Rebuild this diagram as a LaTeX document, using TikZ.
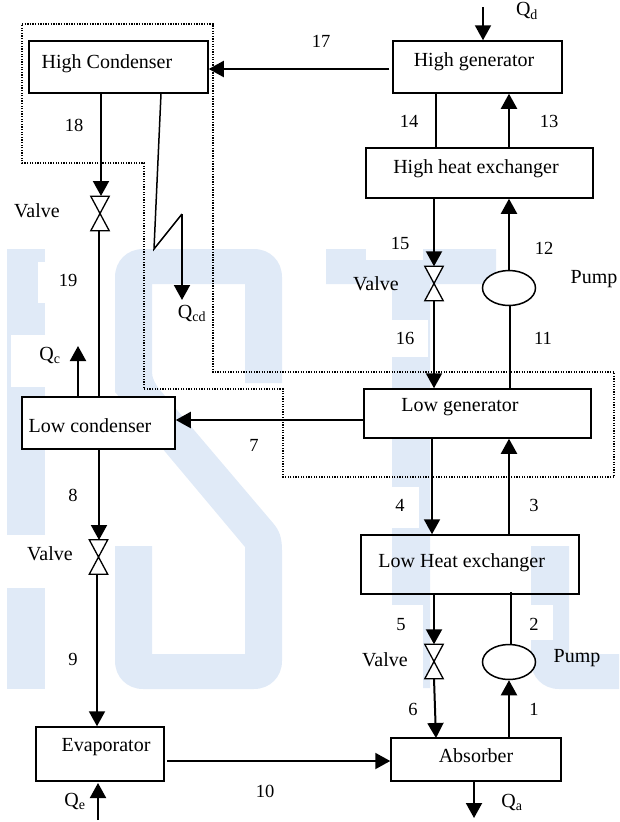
\documentclass[tikz,border=0pt]{standalone}
\usepackage{fontspec}
\setmainfont{Liberation Serif}
\usetikzlibrary{arrows.meta,shapes.geometric}
\definecolor{wmblue}{HTML}{E0EAF7}
\newcommand{\boxtext}[3]{\smash{\raisebox{#2pt}{\makebox[0pt]{\hspace*{#1pt}#3}}}}
\tikzset{
  unitbox/.style={draw=black,line width=1.5pt,inner sep=0pt,minimum width=#1},
  whitebox/.style={unitbox=#1,fill=white},
  valveframe/.style={inner sep=0pt,minimum width=18pt,minimum height=34pt},
  valveshape/.style={draw=black,fill=white,line width=1.3pt,line join=miter},
  pumpshape/.style={draw=black,fill=white,line width=1.5pt,ellipse,inner sep=0pt,minimum width=53pt,minimum height=35pt},
  flow/.style={line width=2pt,-{Triangle[length=15pt,width=16pt]}},
  plain/.style={line width=1.5pt},
  lbl/.style={inner sep=0pt,font=\fontsize{18.5}{20}\selectfont},
  dottedline/.style={line width=1.2pt,dash pattern=on 1.3pt off 1.3pt},
  wm/.style={fill=wmblue,draw=none}
}
\begin{document}
\begin{tikzpicture}[x=1pt,y=-1pt,font=\fontsize{20}{22}\selectfont]
\useasboundingbox (0,0) rectangle (619,822);
% watermark
\fill[wm] (7,249) rectangle (45,535);
\fill[wm] (7,588) rectangle (45,689);
\fill[wm] (115,392) -- (115,277) .. controls (115,261) and (127,249) .. (143,249)
  -- (254,249) .. controls (270,249) and (282,261) .. (282,277)
  -- (282,383) -- (245,383) -- (245,284) -- (152,284) -- (152,372)
  .. controls (152,378) and (155,384) .. (160,390)
  -- (273,523) .. controls (279,530) and (282,537) .. (282,550)
  -- (282,661) .. controls (282,677) and (270,689) .. (254,689)
  -- (143,689) .. controls (127,689) and (115,677) .. (115,661)
  -- (115,546) -- (152,546) -- (152,654) -- (245,654) -- (245,547) -- cycle;
\fill[wm] (326,249) -- (496,249) -- (496,284) -- (430,284) -- (430,688) -- (392,688) -- (392,284) -- (326,284) -- cycle;
\fill[wm] (531,546) -- (569,546) -- (569,654) -- (619,654) -- (619,689) -- (559,689)
  .. controls (543,689) and (531,677) .. (531,661) -- cycle;
\fill[white] (38,262) rectangle (46,303);
\fill[white] (11,335) rectangle (46,387);
\fill[white] (366,248) rectangle (423,260);
\fill[white] (391,320) rectangle (428,357);
\fill[white] (391,487) rectangle (419,528);
\fill[white] (391,605) rectangle (423,689);
\fill[white] (531,605) rectangle (553,640);
% dotted boundary
\draw[dottedline] (22,24) -- (213,24) -- (213,372) -- (614,372) -- (614,477) -- (283,477) -- (283,389) -- (144,389) -- (144,163) -- (22,163) -- cycle;
% boxes
\node[unitbox=179pt,minimum height=52pt] (hc) at (118.5,67) {\boxtext{-23}{-1.3}{High Condenser}};
\node[unitbox=169pt,minimum height=52pt] (hg) at (477.5,67) {\boxtext{-7}{0.3}{High generator}};
\node[unitbox=227pt,minimum height=50pt] (hhe) at (479.5,173) {\boxtext{-7}{0}{High heat exchanger}};
\node[whitebox=227pt,minimum height=49pt] (lg) at (477.5,413.5) {\boxtext{-35}{1.8}{Low generator}};
\node[whitebox=153pt,minimum height=52pt] (lc) at (98.5,423) {\boxtext{-17}{-9.7}{Low condenser}};
\node[unitbox=218pt,minimum height=59pt] (lhe) at (470,564.5) {\boxtext{-16.6}{-3.2}{Low Heat exchanger}};
\node[unitbox=170pt,minimum height=43pt] (ab) at (476,759.5) {\boxtext{0}{-3.2}{Absorber}};
\node[unitbox=128pt,minimum height=54pt] (ev) at (100,754) {\boxtext{12}{3}{Evaporator}};
% pumps
\node[pumpshape] (p1) at (509,288) {};
\node[pumpshape] (p2) at (509,662) {};
% valves
\node[valveframe] (v1) at (100,213.5) {};
\node[valveframe] (v2) at (434,283.5) {};
\node[valveframe] (v3) at (434,661.5) {};
\node[valveframe] (v4) at (98.5,557) {};
\foreach \v in {v1,v2,v3,v4}
  \draw[valveshape] (\v.north west) -- (\v.north east) -- (\v.south west) -- (\v.south east) -- cycle;
% free ends
\coordinate (qdtop) at (483,7);
\coordinate (qabot) at (474,818);
\coordinate (qebot) at (98,820);
\coordinate (qctop) at (78,346);
\coordinate (zz1) at (154,249);
\coordinate (zz2) at (182,214);
\coordinate (qcdend) at (182,300);
% connectors
\draw[flow] ([xshift=-3pt,yshift=-2pt]hg.west) -- ([yshift=-2pt]hc.east);
\draw[flow] (hc.south -| 101,0) -- (101,196);
\draw[plain] (v1.south -| 99,0) -- (lc.north -| 99,0);
\draw[plain] (hc.south -| 161,0) -- (zz1) -- (zz2);
\draw[flow] (zz2) -- (qcdend);
\draw[flow] (lc.north -| qctop) -- (qctop);
\draw[flow] (lg.west |- 0,420) -- (lc.east |- 0,420);
\draw[flow] (lc.south -| 99,0) -- (99,540);
\draw[flow] (v4.south -| 97,0) -- (ev.north -| 97,0);
\draw[flow] (qebot) -- (98,783);
\draw[flow] (167,761) -- (ab.west |- 0,761);
\draw[flow] (qdtop) -- (hg.north -| qdtop);
\draw[plain] (hhe.north -| 436,0) -- (hg.south -| 436,0);
\draw[flow] (hhe.north -| p1) -- (hg.south -| p1);
\draw[flow] (hhe.south -| v2) -- (v2.north);
\draw[flow] (p1.north) -- (hhe.south -| p1);
\draw[plain] (510,306) -- (lg.north -| 510,0);
\draw[flow] (v2.south) -- (lg.north -| v2);
\draw[flow] (lg.south -| 432,0) -- (lhe.north -| 432,0);
\draw[flow] (lhe.north -| p1) -- (lg.south -| p1);
\draw[flow] (lhe.south -| v3) -- (v3.north);
\draw[plain] (511,592) -- (511,645);
\draw[flow] (v3.south) -- (436,738);
\draw[flow] (ab.north -| p2) -- (p2.south);
\draw[flow] (ab.south -| qabot) -- (qabot);
% labels
\node[lbl] (n17) at (321,41) {17};
\node[lbl] (n18) at (74,125) {18};
\node[lbl] (n19) at (68,280) {19};
\node[lbl] (n14) at (409,121) {14};
\node[lbl] (n13) at (549,121) {13};
\node[lbl] (n15) at (400,243) {15};
\node[lbl] (n12) at (544,248) {12};
\node[lbl] (n16) at (405,338) {16};
\node[lbl] (n11) at (543,338) {11};
\node[lbl] (n7) at (254,445) {7};
\node[lbl] (n8) at (73,495) {8};
\node[lbl] (n9) at (73,659) {9};
\node[lbl] (n10) at (265,791) {10};
\node[lbl] (n4) at (400,505) {4};
\node[lbl] (n3) at (534,505) {3};
\node[lbl] (n5) at (401,625) {5};
\node[lbl] (n2) at (534,624) {2};
\node[lbl] (n6) at (413,709) {6};
\node[lbl] (n1) at (534,709) {1};
\node[inner sep=0pt] (tv1) at (37,211) {Valve};
\node[inner sep=0pt] (tv2) at (376,284) {Valve};
\node[inner sep=0pt] (tv3) at (50,554) {Valve};
\node[inner sep=0pt] (tv4) at (385,660) {Valve};
\node[inner sep=0pt] (tp1) at (594,279) {Pump};
\node[inner sep=0pt] (tp2) at (577,658) {Pump};
\node[inner sep=0pt] (qd) at (527,11) {Q\textsubscript{d}};
\node[inner sep=0pt] (qcd) at (192,313) {Q\textsubscript{cd}};
\node[inner sep=0pt] (qc) at (50,355) {Q\textsubscript{c}};
\node[inner sep=0pt] (qe) at (75,801) {Q\textsubscript{e}};
\node[inner sep=0pt] (qa) at (512,802) {Q\textsubscript{a}};
\end{tikzpicture}
\end{document}
